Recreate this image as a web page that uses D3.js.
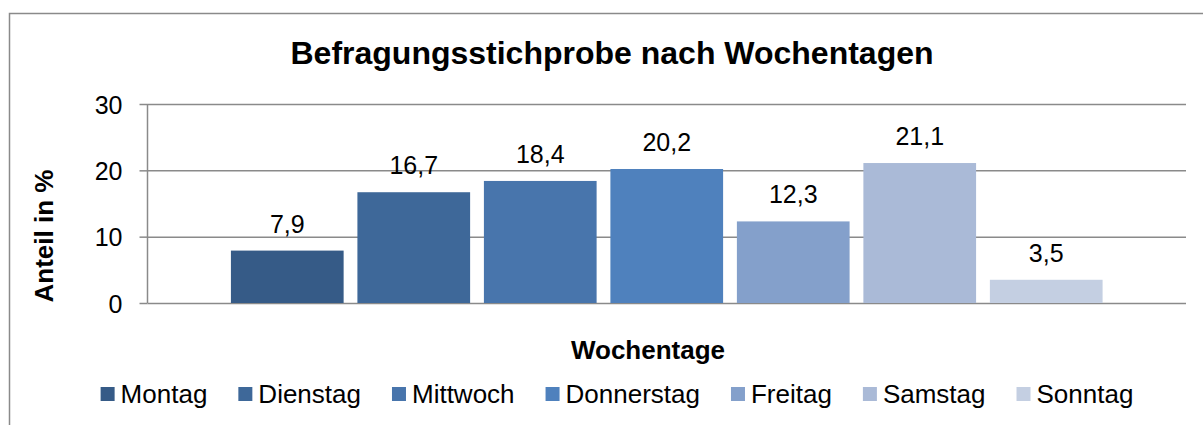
<!DOCTYPE html>
<html>
<head>
<meta charset="utf-8">
<script src="https://cdn.jsdelivr.net/npm/d3@7"></script>
<style>
  body { margin: 0; background: #fff; }
  text { font-family: "Liberation Sans", Arial, sans-serif; fill: #000; }
</style>
</head>
<body>
<div id="chart"></div>
<script>
// data
const days = ['Montag', 'Dienstag', 'Mittwoch', 'Donnerstag', 'Freitag', 'Samstag', 'Sonntag'];
const shares = [7.9, 16.7, 18.4, 20.2, 12.3, 21.1, 3.5];
const yTicks = [0, 10, 20, 30];
const colors = ['#365B87', '#3E6899', '#4875AC', '#4F81BD', '#84A0CB', '#AABAD7', '#C4CFE2'];

const W = 1203, H = 425;
const svg = d3.select('#chart').append('svg')
  .attr('width', W)
  .attr('height', H);

//** outer chart border
svg.append('rect')
  .attr('x', 9.5).attr('y', 13.5)
  .attr('width', W + 10).attr('height', H + 10)
  .attr('fill', 'none')
  .attr('stroke', '#8a8a8a')
  .attr('stroke-width', 1.5);

//** plot area
const plot = { left: 147.5, right: 1186, top: 104, bottom: 303 };

const y = d3.scaleLinear()
  .domain([0, 30])
  .range([plot.bottom, plot.top]);

//** one empty category, series side by side inside it
const x0 = d3.scaleBand()
  .domain([''])
  .range([plot.left, plot.right])
  .paddingInner(0)
  .paddingOuter(0.0957);
const x1 = d3.scaleBand()
  .domain(days)
  .range([0, x0.bandwidth()])
  .paddingInner(0.109);

//** gridlines
const grid = svg.append('g')
  .attr('transform', 'translate(' + plot.left + ',0)')
  .call(d3.axisLeft(y).tickValues(yTicks).tickSize(-(plot.right - plot.left)).tickFormat(''));
grid.select('.domain').remove();
grid.selectAll('line').attr('stroke', '#8a8a8a').attr('stroke-width', 1.5);

//** y axis
const yAxis = svg.append('g')
  .attr('transform', 'translate(' + plot.left + ',0)')
  .call(d3.axisLeft(y).tickValues(yTicks).tickSize(8).tickPadding(17).tickFormat(d3.format('d')));
yAxis.select('.domain')
  .attr('stroke', '#8a8a8a').attr('stroke-width', 1.5)
  .attr('d', 'M0,' + plot.top + 'V' + plot.bottom);
yAxis.selectAll('line').attr('stroke', '#8a8a8a').attr('stroke-width', 1.5);
yAxis.selectAll('text')
  .attr('font-size', 25)
  .attr('dy', '0.36em')
  .style('font-family', '"Liberation Sans", Arial, sans-serif')
  .attr('fill', '#000');

//** bars
const g = svg.append('g')
  .attr('transform', 'translate(' + x0('') + ',0)');

g.selectAll('rect.bar')
  .data(days)
  .enter().append('rect')
  .attr('class', 'bar')
  .attr('x', d => x1(d))
  .attr('y', (d, i) => y(shares[i]))
  .attr('width', x1.bandwidth())
  .attr('height', (d, i) => y(0) - y(shares[i]))
  .attr('fill', (d, i) => colors[i]);

//** value labels
g.selectAll('text.val')
  .data(days)
  .enter().append('text')
  .attr('class', 'val')
  .attr('x', d => x1(d) + x1.bandwidth() / 2)
  .attr('y', (d, i) => y(shares[i]) - 18)
  .attr('text-anchor', 'middle')
  .attr('font-size', 25)
  .text((d, i) => d3.format('.1f')(shares[i]).replace('.', ','));

//** titles
svg.append('text')
  .attr('x', 612).attr('y', 64)
  .attr('text-anchor', 'middle')
  .attr('font-size', 32)
  .attr('font-weight', 'bold')
  .text('Befragungsstichprobe nach Wochentagen');

svg.append('text')
  .attr('transform', 'translate(53,236) rotate(-90)')
  .attr('text-anchor', 'middle')
  .attr('font-size', 26)
  .attr('font-weight', 'bold')
  .text('Anteil in %');

svg.append('text')
  .attr('x', 648).attr('y', 359)
  .attr('text-anchor', 'middle')
  .attr('font-size', 26)
  .attr('font-weight', 'bold')
  .text('Wochentage');

//** legend
const legend = svg.append('g');
let offset = 0;
days.forEach((d, i) => {
  const item = legend.append('g').attr('transform', 'translate(' + offset + ',0)');
  item.append('rect')
    .attr('x', 0).attr('y', 387)
    .attr('width', 14).attr('height', 14)
    .attr('fill', colors[i]);
  const t = item.append('text')
    .attr('x', 20).attr('y', 403)
    .attr('font-size', 26)
    .text(d);
  offset += 20 + t.node().getComputedTextLength() + 31;
});
const legendWidth = offset - 31;
legend.attr('transform', 'translate(' + (617 - legendWidth / 2) + ',0)');
</script>
</body>
</html>
